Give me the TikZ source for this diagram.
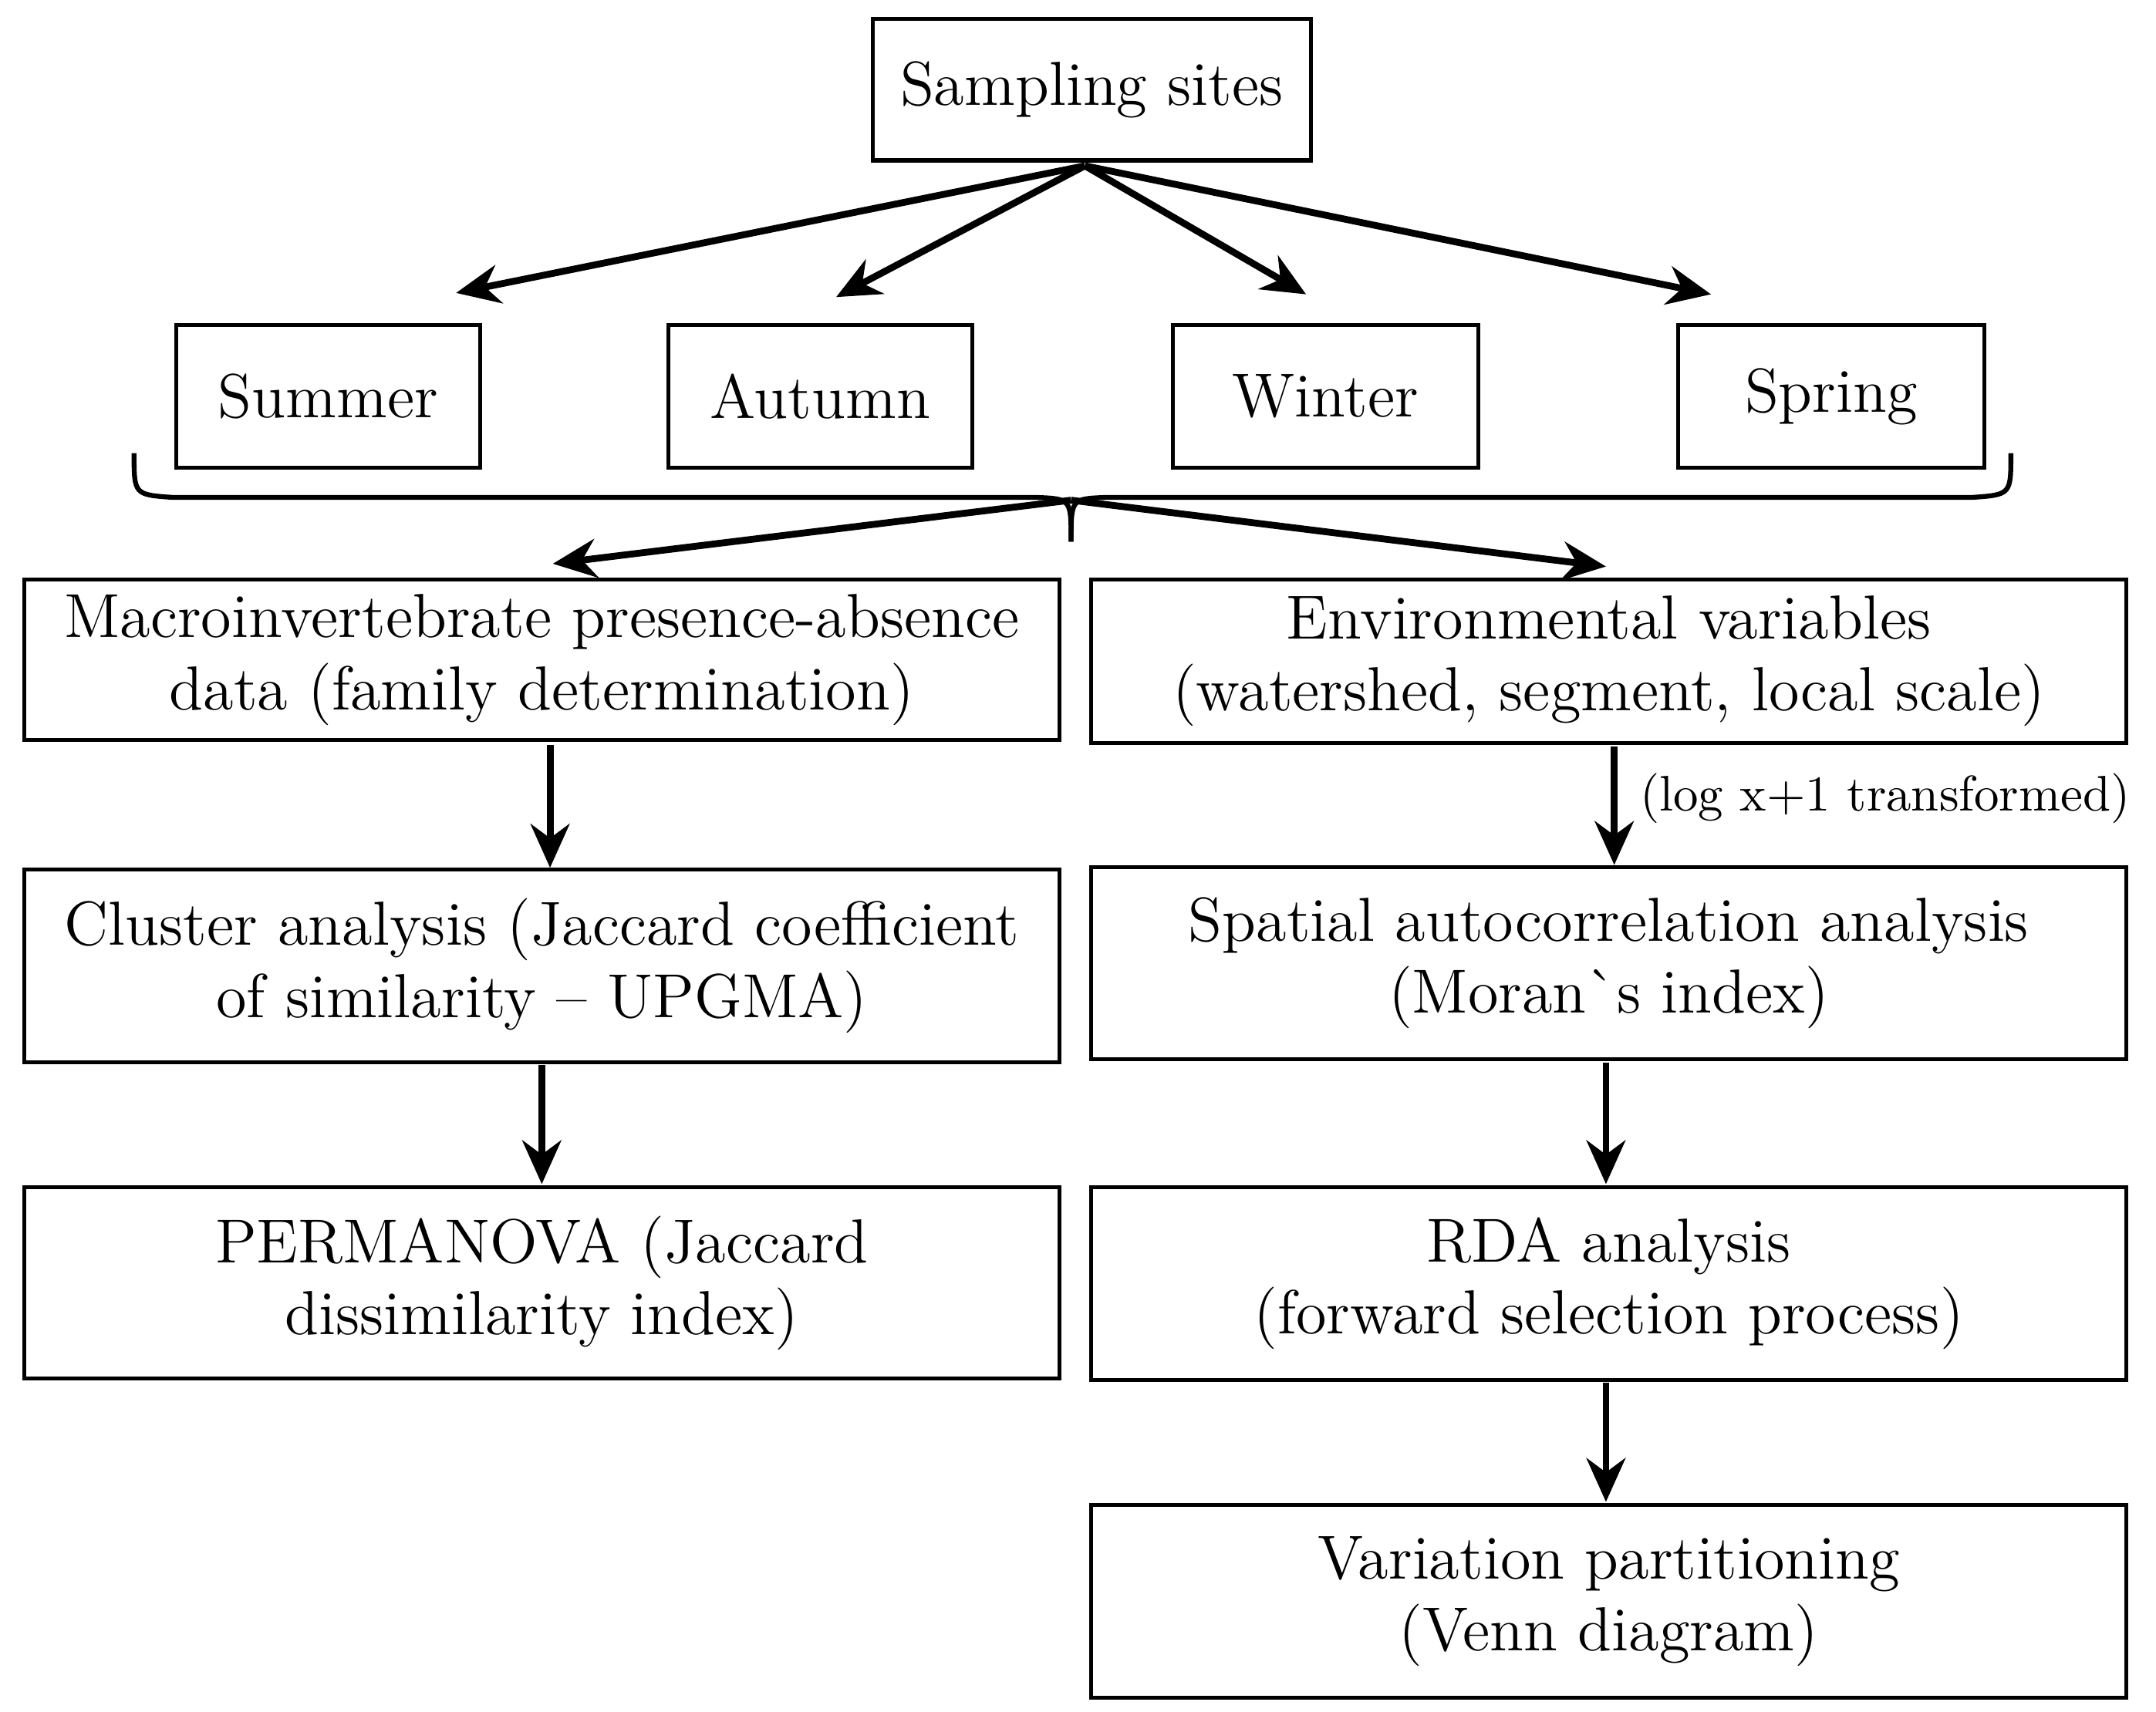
\documentclass[tikz,border=0pt]{standalone}
\usetikzlibrary{arrows.meta}
\begin{document}
\begin{tikzpicture}[x=0.01cm,y=-0.01cm,
 box/.style={draw,line width=0.8pt,align=center,inner sep=0pt,font=\fontsize{12.8}{14.8}\selectfont},
 arr/.style={line width=1.4pt,-{Stealth[length=9pt,width=8pt]}}]
\useasboundingbox (0,0) rectangle (1560,1239);
\newcommand{\bx}[6]{\node[box,minimum width=#4*0.01cm-0.8pt,minimum height=#5*0.01cm-0.8pt] (#1) at (#2,#3) {#6};}
\bx{ss}{790}{65}{320}{105}{Sampling sites}
\bx{su}{237.5}{287}{223}{106}{Summer}
\bx{au}{593.5}{287}{223}{106}{Autumn}
\bx{wi}{959}{287}{224}{106}{Winter}
\bx{sp}{1325}{287}{224}{106}{Spring}
\bx{l1}{392}{477.5}{752}{119}{Macroinvertebrate presence-absence\\data (family determination)}
\bx{l2}{392}{699}{752}{142}{Cluster analysis (Jaccard coefficient\\of similarity -- UPGMA)}
\bx{l3}{392}{928.5}{752}{141}{PERMANOVA (Jaccard\\dissimilarity index)}
\bx{r1}{1164}{478.5}{752}{121}{Environmental variables\\(watershed, segment, local scale)}
\bx{r2}{1164}{697}{752}{142}{Spatial autocorrelation analysis\\(Moran\textasciigrave s index)}
\bx{r3}{1164}{929}{752}{142}{RDA analysis\\(forward selection process)}
\bx{r4}{1164}{1159}{752}{142}{Variation partitioning\\(Venn diagram)}
\coordinate (top) at (785,120);
\coordinate (a1) at (330,212); \coordinate (a2) at (605,215);
\coordinate (a3) at (945,213); \coordinate (a4) at (1238,213);
\foreach \t in {a1,a2,a3,a4} \draw[arr] (top) -- (\t);
\draw[line width=1pt] (97,328) .. controls (97,358) .. (125,360) -- (750,360) .. controls (775,361) .. (775,392);
\draw[line width=1pt] (1455,328) .. controls (1455,358) .. (1427,360) -- (800,360) .. controls (775,361) .. (775,392);
\coordinate (bt) at (775,362);
\coordinate (b1) at (400,408); \coordinate (b2) at (1162,410);
\draw[arr] (bt) -- (b1); \draw[arr] (bt) -- (b2);
\draw[arr] (398,539) -- (398,628);
\draw[arr] (392,771) -- (392,857);
\draw[arr] (1168,540) -- (1168,626);
\node[anchor=west,inner sep=0pt,font=\fontsize{10.3}{12}\selectfont] (lg) at (1186,578) {(log x+1 transformed)};
\draw[arr] (1162,769) -- (1162,857);
\draw[arr] (1162,1001) -- (1162,1087);
\end{tikzpicture}
\end{document}
